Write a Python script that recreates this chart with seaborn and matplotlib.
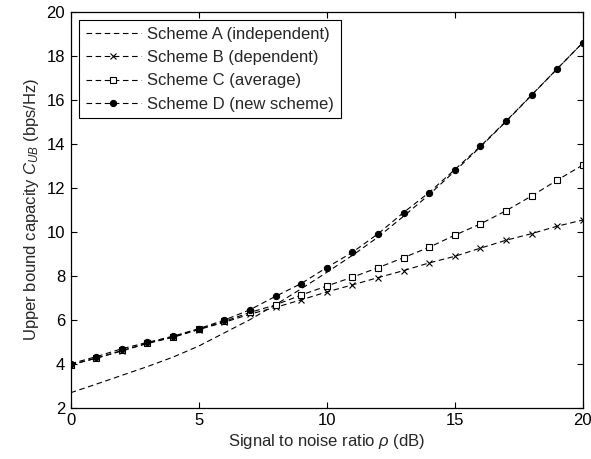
import matplotlib
matplotlib.use("Agg")
import matplotlib.pyplot as plt
import pandas as pd
import seaborn as sns

snr_db = list(range(0, 21))

scheme_a = [2.68, 3.07, 3.47, 3.87, 4.3, 4.8, 5.4, 6.0, 6.68, 7.4, 8.15,
            8.92, 9.75, 10.7, 11.68, 12.75, 13.85, 15.0, 16.2, 17.4, 18.59]
scheme_b = [3.95, 4.25, 4.58, 4.92, 5.2, 5.55, 5.88, 6.25, 6.56, 6.9, 7.26,
            7.58, 7.91, 8.23, 8.58, 8.88, 9.25, 9.61, 9.91, 10.25, 10.53]
scheme_c = [3.95, 4.25, 4.6, 4.93, 5.22, 5.57, 5.92, 6.33, 6.67, 7.12, 7.53,
            7.93, 8.36, 8.82, 9.29, 9.84, 10.35, 10.95, 11.62, 12.34, 13.03]
scheme_d = [4.0, 4.32, 4.68, 4.97, 5.25, 5.59, 5.98, 6.45, 7.06, 7.64, 8.37,
            9.06, 9.9, 10.87, 11.78, 12.82, 13.88, 15.02, 16.21, 17.4, 18.59]

labels = ["Scheme A (independent)", "Scheme B (dependent)",
          "Scheme C (average)", "Scheme D (new scheme)"]

df = pd.DataFrame({"snr": snr_db, "A": scheme_a, "B": scheme_b,
                   "C": scheme_c, "D": scheme_d})

sns.set_theme(style="ticks")
plt.rcParams["font.family"] = ["Liberation Sans", "DejaVu Sans"]
plt.rcParams["mathtext.fontset"] = "custom"
plt.rcParams["mathtext.rm"] = "Liberation Sans"
plt.rcParams["mathtext.it"] = "Liberation Sans:italic"

fig = plt.figure(figsize=(5.91, 4.59), dpi=100)
ax = fig.add_axes([0.1196, 0.1118, 0.8664, 0.8627])

dash = (0, (5, 3.2))
styles = [
    dict(marker=None),
    dict(marker="x", markersize=5, markeredgewidth=0.8,
         markeredgecolor="black"),
    dict(marker="s", markersize=4.5, markerfacecolor="white",
         markeredgecolor="black", markeredgewidth=0.8),
    dict(marker="o", markersize=4.5, markerfacecolor="black",
         markeredgecolor="black"),
]
for col, lab, st in zip(["A", "B", "C", "D"], labels, styles):
    sns.lineplot(data=df, x="snr", y=col, ax=ax, color="black",
                 linewidth=0.8, linestyle=dash, label=lab, **st)

ax.set_xlim(0, 20)
ax.set_ylim(2, 20)
ax.set_xticks([0, 5, 10, 15, 20])
ax.set_yticks(range(2, 21, 2))
ax.tick_params(direction="in", top=True, right=True, length=4,
               width=0.8, labelsize=12, colors="black", pad=4)
for s in ax.spines.values():
    s.set_visible(True)
    s.set_linewidth(0.9)
    s.set_color("black")

ax.set_xlabel(r"Signal to noise ratio $\rho$ (dB)", fontsize=12, labelpad=3)
ax.set_ylabel(r"Upper bound capacity $C_{UB}$ (bps/Hz)", fontsize=12,
              labelpad=4)

leg = ax.legend(loc="upper left", fontsize=12, frameon=True, fancybox=False,
                borderaxespad=0.5, handlelength=3.3, labelspacing=0.5,
                borderpad=0.4, handletextpad=0.4)
leg.get_frame().set_edgecolor("black")
leg.get_frame().set_linewidth(0.8)
leg.get_frame().set_alpha(1)

fig.savefig("out.png", dpi=100)
